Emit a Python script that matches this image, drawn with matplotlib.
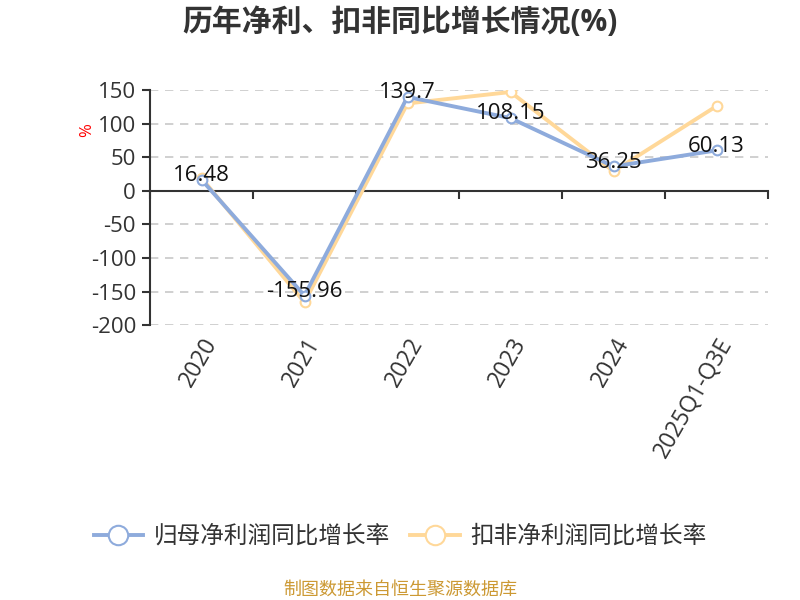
import matplotlib
matplotlib.use('Agg')
import matplotlib.pyplot as plt
import numpy as np

plt.rcParams['font.family'] = ['Open Sans', 'Noto Sans CJK SC', 'DejaVu Sans']
plt.rcParams['axes.unicode_minus'] = False

categories = ['2020', '2021', '2022', '2023', '2024', '2025Q1-Q3E']
net_profit = [16.48, -155.96, 139.7, 108.15, 36.25, 60.13]
deducted = [19.0, -166.0, 130.0, 147.0, 29.0, 126.0]
labels = ['16.48', '-155.96', '139.7', '108.15', '36.25', '60.13']

blue = '#8eabdc'
orange = '#ffd899'

fig = plt.figure(figsize=(8, 6), dpi=100)
ax = fig.add_axes([0.1875, 0.458, 0.7725, 0.392])

x = np.arange(len(categories))
ax.plot(x, deducted, color=orange, lw=2.8, marker='o', ms=7, mfc='white',
        mec=orange, mew=1.5, label='扣非净利润同比增长率', zorder=3)
ax.plot(x, net_profit, color=blue, lw=2.8, marker='o', ms=7, mfc='white',
        mec=blue, mew=1.5, label='归母净利润同比增长率', zorder=4)

for xi, v, t in zip(x, net_profit, labels):
    ax.annotate(t, (xi, v), xytext=(0, 3), textcoords='offset points',
                ha='center', va='center', fontsize=16, color='#111111', zorder=5)

ax.set_xlim(-0.5, len(categories) - 0.5)
ax.set_ylim(-200, 150)
ax.set_yticks(np.arange(-200, 151, 50))
ax.tick_params(axis='y', labelsize=16, colors='#333333', length=6, width=1.5, pad=4)

# dashed grid
for yv in np.arange(-200, 151, 50):
    if yv != 0:
        ax.axhline(yv, color='#c8c8c8', lw=1.2, ls=(0, (5, 4)), zorder=1)

for s in ['top', 'right']:
    ax.spines[s].set_visible(False)
ax.spines['left'].set_color('#333333')
ax.spines['left'].set_linewidth(1.5)
ax.spines['bottom'].set_position(('data', 0))
ax.spines['bottom'].set_color('#333333')
ax.spines['bottom'].set_linewidth(1.5)
ax.set_xticks(np.arange(-0.5, len(categories), 1.0))
ax.set_xticklabels([])
ax.tick_params(axis='x', length=6, width=1.5, colors='#333333')

sec = ax.secondary_xaxis('bottom')
sec.set_xticks(x)
sec.set_xticklabels(categories, rotation=60, ha='right', va='top',
                    rotation_mode='anchor', fontsize=16.5, color='#333333')
sec.tick_params(length=0, pad=6)
sec.spines['bottom'].set_visible(False)

ax.text(-0.102, 0.83, '%', transform=ax.transAxes, color='red', fontsize=12,
        rotation=90, ha='center', va='center')

fig.text(0.5, 0.962, '历年净利、扣非同比增长情况(%)', ha='center', va='center',
         fontsize=21.5, fontweight='bold', color='#333333')

h, l = ax.get_legend_handles_labels()
leg = fig.legend(h[::-1], l[::-1], loc='center', bbox_to_anchor=(0.5, 0.105),
                 ncol=2, frameon=False, fontsize=17, handlelength=2.1,
                 columnspacing=0.85, handletextpad=0.45, markerscale=2.0)
for t in leg.get_texts():
    t.set_color('#333333')

fig.text(0.5, 0.018, '制图数据来自恒生聚源数据库', ha='center', va='center',
         fontsize=13, color='#cc9933')

fig.savefig('out.png', dpi=100)
